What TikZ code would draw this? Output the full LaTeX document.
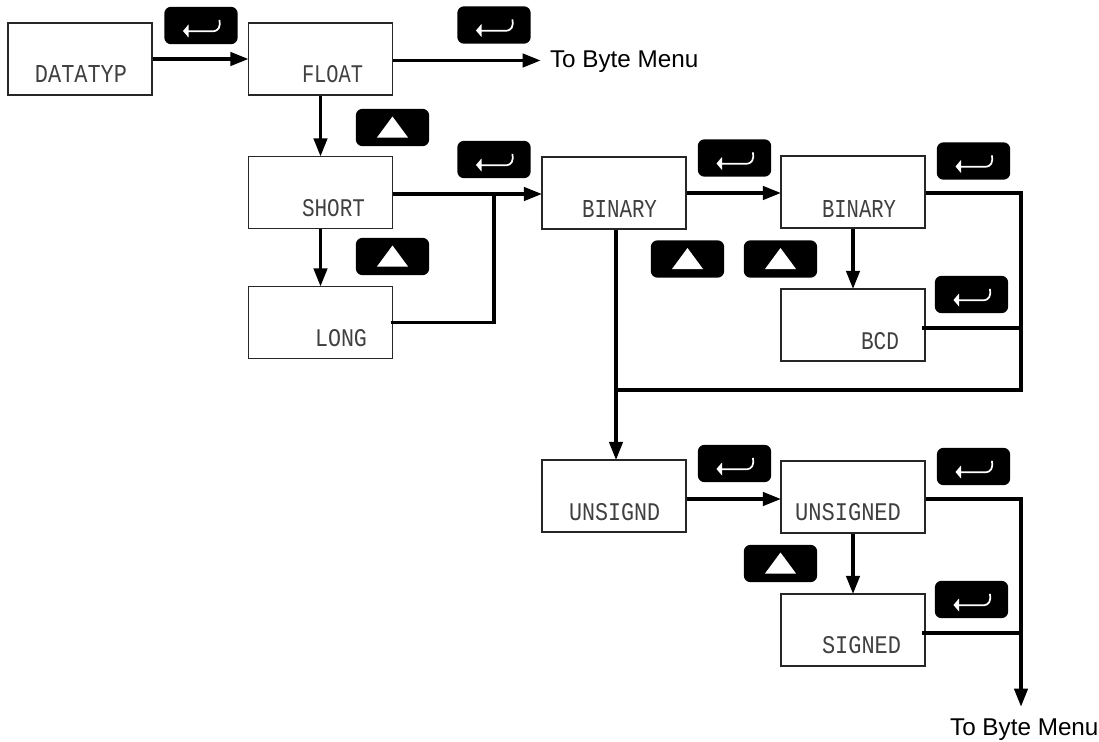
\documentclass[tikz,border=0pt]{standalone}
\usepackage{fontspec}
\usepackage{graphicx}
\usetikzlibrary{arrows.meta,calc}
\setmainfont{Liberation Sans}
\newfontfamily\lcdfont{Liberation Mono}
\newcommand{\lcdtxt}[2]{\resizebox{\dimexpr 0.75pt*#1\relax}{12.75pt}{\lcdfont #2}}
\tikzset{
  panel/.style={draw=black!85,line width=1.1pt,fill=white,minimum width=108pt,minimum height=54pt,inner sep=0pt},
  lcd/.style={inner sep=0pt,outer sep=0pt,text=black!75,anchor=center},
  keycap/.style={fill=black,draw=none,rounded corners=5pt,minimum width=55pt,minimum height=28pt,inner sep=0pt},
  flow/.style={line width=2.4pt,draw=black},
  flowarrow/.style={flow,-{Triangle[length=13.5pt,width=10pt]},shorten >=-0.5pt},
  caption/.style={font=\fontsize{18.2pt}{20pt}\selectfont,inner sep=0pt,outer sep=0pt}
}
\newcommand{\enterkey}[3]{%
  \node[keycap] (#1) at (#2,#3) {};
  \fill[white] ($(#1.center)+(-18,5.5)$) -- ++(5.5,-6.5) -- ++(0,13) -- cycle;
  \draw[white,line width=1.3pt] ($(#1.center)+(-14,5.8)$) -- ++(25,0) .. controls +(7,0) and +(1,7) .. ++(7.5,-11.5);
}
\newcommand{\upkey}[3]{%
  \node[keycap] (#1) at (#2,#3) {};
  \fill[white] ($(#1.center)+(-15.5,10)$) -- ++(31,0) -- ++(-15.5,-21) -- cycle;
}
\begin{document}
\begin{tikzpicture}[x=0.75pt,y=-0.75pt]
\path[use as bounding box] (0,0) rectangle (1099,742);
% display boxes
\node[panel] (dt) at (80,59) {};
\node[panel] (fl) at (320.5,59) {};
\node[panel] (sh) at (320.5,192.5) {};
\node[panel] (lo) at (320.5,322.5) {};
\node[panel] (b1) at (614,193) {};
\node[panel] (b2) at (853,192) {};
\node[panel] (bc) at (853,325) {};
\node[panel] (un) at (614,496) {};
\node[panel] (us) at (853,497) {};
\node[panel] (si) at (853,630) {};
% display texts
\node[lcd] (tdt) at (81,74.5) {\lcdtxt{92}{DATATYP}};
\node[lcd] (tfl) at (332.5,74) {\lcdtxt{61}{FLOAT}};
\node[lcd] (tsh) at (333.5,208.5) {\lcdtxt{63}{SHORT}};
\node[lcd] (tlo) at (341,338) {\lcdtxt{52}{LONG}};
\node[lcd] (tb1) at (619.5,208.5) {\lcdtxt{75}{BINARY}};
\node[lcd] (tb2) at (859,208.5) {\lcdtxt{74}{BINARY}};
\node[lcd] (tbc) at (880,341) {\lcdtxt{38}{BCD}};
\node[lcd] (tun) at (614.5,512.5) {\lcdtxt{91}{UNSIGND}};
\node[lcd] (tus) at (848,512.5) {\lcdtxt{106}{UNSIGNED}};
\node[lcd] (tsi) at (861.5,645.5) {\lcdtxt{79}{SIGNED}};
% keys
\enterkey{k1}{201}{25.5}
\enterkey{k2}{494}{25}
\upkey{k3}{392.5}{127.5}
\enterkey{k4}{494}{159.5}
\upkey{k5}{392.5}{256.5}
\enterkey{k6}{734.5}{158}
\enterkey{k7}{973.5}{161}
\upkey{k8}{687.5}{259}
\upkey{k9}{780.5}{259}
\enterkey{k10}{971.5}{294.5}
\enterkey{k11}{734.5}{463.5}
\enterkey{k12}{973.5}{466.5}
\upkey{k13}{780.5}{563.5}
\enterkey{k14}{971.5}{599.5}
% free ends
\node[caption,anchor=west] (bm1) at (550,61.5) {To Byte Menu};
\node[caption,anchor=east] (bm2) at (1098.5,730) {To Byte Menu};
\coordinate (j1) at (494,194);
\coordinate (j2) at (1021,193);
\coordinate (j3) at (616,390);
\coordinate (j4) at (1021,328);
\coordinate (j5) at (1021,499);
\coordinate (j6) at (1021,633);
\coordinate (end1) at (1021,706);
\coordinate (j0) at (540,60.5);
% connectors
\draw[flowarrow] (dt.east) -- (fl.west);
\draw[flowarrow] (fl.east |- j0) -- (j0);
\draw[flowarrow] (fl.south) -- (sh.north);
\draw[flowarrow] (sh.east |- j1) -- (b1.west |- j1);
\draw[flowarrow] (sh.south) -- (lo.north);
\draw[flow,line join=miter] ([xshift=-2]lo.east) -- (j1 |- lo.east) -- (j1);
\draw[flowarrow] (b1.east |- j2) -- (b2.west |- j2);
\draw[flowarrow] (b2.south) -- (bc.north);
\draw[flow,line join=miter] (b2.east |- j2) -- (j2) -- (j2 |- j3) -- (j3);
\draw[flow] ([xshift=-3]bc.east |- j4) -- (j4);
\draw[flowarrow] (b1.south -| j3) -- (un.north -| j3);
\draw[flowarrow] (un.east |- j5) -- (us.west |- j5);
\draw[flowarrow] (us.south) -- (si.north);
\draw[flowarrow,line join=miter] (us.east |- j5) -- (j5) -- (end1);
\draw[flow] ([xshift=-3]si.east |- j6) -- (j6);
\end{tikzpicture}
\end{document}
